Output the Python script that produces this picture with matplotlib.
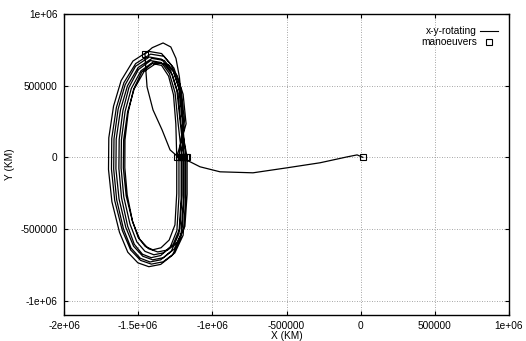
import matplotlib
matplotlib.use("Agg")
import matplotlib.pyplot as plt
import numpy as np
from matplotlib.lines import Line2D

plt.rcParams['font.family'] = ['Liberation Sans', 'DejaVu Sans']

# ---- data (thousands of km) ----
transfer_x = [15, -24, -92, -274, -496, -726, -948, -1083, -1150, -1195, -1231, -1285, -1339, -1400, -1440, -1447, -1454]
transfer_y = [0, 17, 3, -38, -73, -108, -101, -66, -31, -12, 3, 52, 192, 331, 491, 589, 721]

arc0_x = [-1405, -1332, -1280, -1245, -1222, -1205, -1197]
arc0_y = [765, 798, 770, 690, 560, 380, 190]

loop1_x = [-1195, -1195, -1212, -1269, -1348, -1428, -1502, -1570, -1626, -1677, -1700, -1698, -1666, -1615, -1535, -1433, -1342, -1274, -1227, -1203]
loop1_y = [0, -298, -557, -683, -747, -763, -736, -662, -523, -310, -85, 136, 357, 535, 672, 740, 724, 640, 494, 263]
loop2_x = [-1180, -1180, -1197, -1253, -1332, -1411, -1484, -1551, -1607, -1658, -1680, -1678, -1647, -1596, -1517, -1416, -1326, -1259, -1212, -1188]
loop2_y = [0, -291, -544, -667, -729, -745, -719, -646, -510, -302, -83, 132, 347, 521, 654, 720, 705, 623, 480, 256]
loop3_x = [-1210, -1210, -1225, -1276, -1348, -1420, -1486, -1548, -1599, -1645, -1665, -1663, -1635, -1588, -1517, -1425, -1343, -1281, -1239, -1217]
loop3_y = [0, -285, -533, -653, -715, -730, -704, -633, -500, -296, -82, 129, 337, 506, 636, 700, 685, 606, 467, 249]
loop4_x = [-1190, -1190, -1206, -1257, -1329, -1402, -1469, -1531, -1583, -1629, -1650, -1648, -1619, -1572, -1500, -1407, -1324, -1262, -1219, -1197]
loop4_y = [0, -279, -522, -640, -700, -715, -690, -620, -490, -290, -80, 127, 333, 499, 627, 690, 676, 597, 460, 245]
loop5_x = [-1225, -1225, -1239, -1284, -1348, -1412, -1471, -1526, -1571, -1612, -1630, -1628, -1603, -1562, -1498, -1416, -1343, -1289, -1251, -1231]
loop5_y = [0, -273, -511, -627, -685, -700, -676, -607, -480, -284, -78, 124, 325, 488, 613, 675, 661, 584, 450, 240]
loop6_x = [-1205, -1205, -1219, -1265, -1329, -1394, -1454, -1509, -1555, -1597, -1615, -1613, -1588, -1546, -1481, -1399, -1325, -1269, -1231, -1212]
loop6_y = [0, -265, -496, -609, -666, -680, -656, -590, -466, -276, -76, 122, 321, 481, 604, 665, 651, 575, 444, 236]
loop7_x = [-1170, -1170, -1185, -1233, -1300, -1368, -1431, -1489, -1537, -1581, -1600, -1598, -1571, -1527, -1460, -1373, -1296, -1238, -1197, -1177]
loop7_y = [0, -257, -482, -591, -646, -660, -637, -572, -452, -268, -74, 121, 318, 477, 599, 660, 646, 571, 440, 234]
loop8_x = [-1240, -1240, -1252, -1291, -1346, -1401, -1452, -1500, -1539, -1574, -1590, -1589, -1567, -1531, -1476, -1405, -1342, -1295, -1262, -1246, -1240]
loop8_y = [0, -252, -471, -577, -631, -645, -622, -559, -442, -262, -72, 121, 316, 474, 595, 655, 641, 567, 437, 233, 0]

man_x = [15, -1454, -1195, -1180, -1210, -1190, -1225, -1205, -1170, -1240]
man_y = [0, 721, 0, 0, 0, 0, 0, 0, 0, 0]

xticks = [-2e6, -1.5e6, -1e6, -5e5, 0, 5e5, 1e6]
xticklabels = ['-2e+06', '-1.5e+06', '-1e+06', '-500000', '0', '500000', '1e+06']
yticks = [-1e6, -5e5, 0, 5e5, 1e6]
yticklabels = ['-1e+06', '-500000', '0', '500000', '1e+06']

# ---- assemble trajectory ----
traj_x = np.concatenate([transfer_x, arc0_x, loop1_x, loop2_x, loop3_x, loop4_x,
                         loop5_x, loop6_x, loop7_x, loop8_x]) * 1000.0
traj_y = np.concatenate([transfer_y, arc0_y, loop1_y, loop2_y, loop3_y, loop4_y,
                         loop5_y, loop6_y, loop7_y, loop8_y]) * 1000.0

fig = plt.figure(figsize=(5.26, 3.41), dpi=100)
ax = fig.add_axes([64/526, 1-315/341, 445/526, 301/341])

ax.plot(traj_x, traj_y, color='black', lw=0.9, zorder=3, solid_joinstyle='round')
ax.plot(np.array(man_x)*1000.0, np.array(man_y)*1000.0, linestyle='none', marker='s',
        markersize=4.5, markerfacecolor='none', markeredgecolor='black', markeredgewidth=0.8, zorder=4)

ax.set_xlim(-2e6, 1e6)
ax.set_ylim(-1.1e6, 1e6)
ax.set_xticks(xticks)
ax.set_xticklabels(xticklabels)
ax.set_yticks(yticks)
ax.set_yticklabels(yticklabels)
ax.tick_params(direction='in', length=3, width=0.8, top=True, right=True,
               labelsize=7.3, colors='black')
ax.tick_params(axis='x', pad=4)
ax.tick_params(axis='y', pad=4.5)
ax.grid(True, color='#888888', linestyle=(0, (1, 2)), linewidth=0.6)
ax.set_axisbelow(True)
for s in ax.spines.values():
    s.set_linewidth(1.0)
    s.set_color('black')

ax.set_xlabel('X (KM)', fontsize=7.3, labelpad=0)
ax.set_ylabel('Y (KM)', fontsize=7.3, labelpad=4)

# legend (gnuplot style: right-justified text, sample after)
ax.text(0.928, 0.9435, 'x-y-rotating', transform=ax.transAxes, ha='right', va='center', fontsize=7.3)
ax.text(0.928, 0.907, 'manoeuvers', transform=ax.transAxes, ha='right', va='center', fontsize=7.3)
ax.add_line(Line2D([0.935, 0.975], [0.9435, 0.9435], transform=ax.transAxes, color='black', lw=0.8))
ax.add_line(Line2D([0.955], [0.907], transform=ax.transAxes, linestyle='none', marker='s',
                   markersize=4, markerfacecolor='none', markeredgecolor='black', markeredgewidth=0.8))

fig.savefig('out.png', dpi=100)
